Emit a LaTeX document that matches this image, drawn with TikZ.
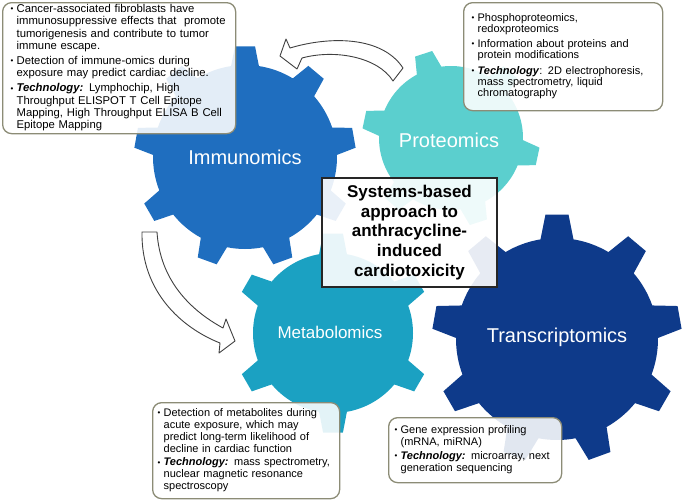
\documentclass[tikz,border=0pt]{standalone}
\usepackage{fontspec}
\setmainfont{Liberation Sans}
\definecolor{immc}{RGB}{31,110,191}
\definecolor{protc}{RGB}{91,207,206}
\definecolor{metac}{RGB}{27,161,194}
\definecolor{transc}{RGB}{14,58,138}
\definecolor{boxline}{RGB}{140,140,118}
\newcommand{\mygear}[8]{%
  \begin{scope}[shift={#2}]
  \fill[#1] (#4-#7:#5) \foreach \i [evaluate=\i as \a using {#4+(\i-1)*360/#3}] in {1,...,#3} {
     -- (\a-#8:#6) -- (\a+#8:#6) -- (\a+#7:#5) arc[start angle=\a+#7, end angle=\a+360/#3-#7, radius=#5]
  } -- cycle;
  \end{scope}}
\newcommand{\bul}{\raisebox{0.8pt}{\fontsize{8}{8}\selectfont\textbullet}}
\newcommand{\tech}{\textbf{\textit{Technology:}}}
\begin{document}
\begin{tikzpicture}[x=1pt,y=1pt,
  gearlabel/.style={text=white, font=\fontsize{20}{24}\selectfont, inner sep=0pt},
  infobox/.style={draw=boxline, line width=1.3pt, rounded corners=9pt, fill=white, fill opacity=0.88, text opacity=1, align=left, anchor=north west, inner ysep=0pt},
  corebox/.style={draw=black!85, line width=1.8pt, fill=white, fill opacity=0.9, text opacity=1, align=center, font=\bfseries\fontsize{17}{19.7}\selectfont, inner sep=0pt},
  blockarrow/.style={fill=white, draw=black!75, line width=0.9pt, line join=round}]
\useasboundingbox (0,0) rectangle (685,-501);
% gears
\mygear{protc}{(451,-138)}{6}{-12}{72}{89}{10.3}{5.8}
\mygear{immc}{(245,-157)}{9}{90}{92}{111}{8.7}{5.2}
\mygear{transc}{(557,-339)}{9}{90}{101}{125}{9.4}{5.3}
\mygear{metac}{(333,-333)}{6}{30}{80}{100}{10}{5.7}
% labels
\node[gearlabel] (imm) at (245,-157) {Immunomics};
\node[gearlabel] (prot) at (449,-140) {Proteomics};
\node[gearlabel, font=\fontsize{17}{20}\selectfont] (meta) at (330,-332) {Metabolomics};
\node[gearlabel] (trans) at (557,-337) {Transcriptomics};
% block arrows
\draw[blockarrow] (280,-56) -- (286,-39) -- (290,-48) .. controls (330,-36) and (382,-36) .. (403,-68) -- (393,-81) .. controls (378,-57) and (335,-49) .. (302,-58) -- (297,-69) -- cycle;
\draw[blockarrow] (142,-232) -- (157,-232) .. controls (160,-280) and (190,-310) .. (223,-328) -- (226,-319) -- (235,-341) -- (219,-353) -- (220,-343) .. controls (182,-328) and (141,-292) .. (142,-232) -- cycle;
% central box
\node[corebox, minimum width=175pt, minimum height=109pt] (core) at (409.5,-232.5)
  {Systems-based\\approach to\\anthracycline-\\induced\\cardiotoxicity};
% info boxes
\node[infobox, minimum width=233pt, minimum height=131pt, text width=217pt, inner xsep=8pt,
  font=\fontsize{11.3}{12.2}\selectfont] (imbox) at (2,-2) {%
\begin{tabular}{@{}l@{\hspace{3.2pt}}l@{}}
\bul & Cancer-associated fibroblasts have\\
& immunosuppressive effects that\ \ promote\\
& tumorigenesis and contribute to tumor\\
& immune escape.\\[3pt]
\bul & Detection of immune-omics during\\
& exposure may predict cardiac decline.\\[3pt]
\bul & \tech{} Lymphochip, High\\
& Throughput ELISPOT T Cell Epitope\\
& Mapping, High Throughput ELISA B Cell\\
& Epitope Mapping
\end{tabular}};
\node[infobox, minimum width=199pt, minimum height=108pt, text width=183pt, inner xsep=8pt,
  font=\fontsize{11}{11}\selectfont] (prbox) at (463,-2) {%
\begin{tabular}{@{}l@{\hspace{3.2pt}}l@{}}
\bul & Phosphoproteomics,\\
& redoxproteomics\\[4pt]
\bul & Information about proteins and\\
& protein modifications\\[4pt]
\bul & \textbf{\textit{Technology}}: 2D electrophoresis,\\
& mass spectrometry, liquid\\
& chromatography
\end{tabular}};
\node[infobox, minimum width=187pt, minimum height=96pt, text width=177pt, inner xsep=5pt,
  font=\fontsize{11}{12}\selectfont] (mebox) at (152,-402) {%
\begin{tabular}{@{}l@{\hspace{3.2pt}}l@{}}
\bul & Detection of metabolites during\\
& acute exposure, which may\\
& predict long-term likelihood of\\
& decline in cardiac function\\[1.5pt]
\bul & \tech{} mass spectrometry,\\
& nuclear magnetic resonance\\
& spectroscopy
\end{tabular}};
\node[infobox, minimum width=173pt, minimum height=65pt, text width=161pt, inner xsep=6pt,
  font=\fontsize{11}{12}\selectfont] (trbox) at (388,-417) {%
\begin{tabular}{@{}l@{\hspace{3.2pt}}l@{}}
\bul & Gene expression profiling\\
& (mRNA, miRNA)\\[2pt]
\bul & \tech{} microarray, next\\
& generation sequencing
\end{tabular}};
\end{tikzpicture}
\end{document}
